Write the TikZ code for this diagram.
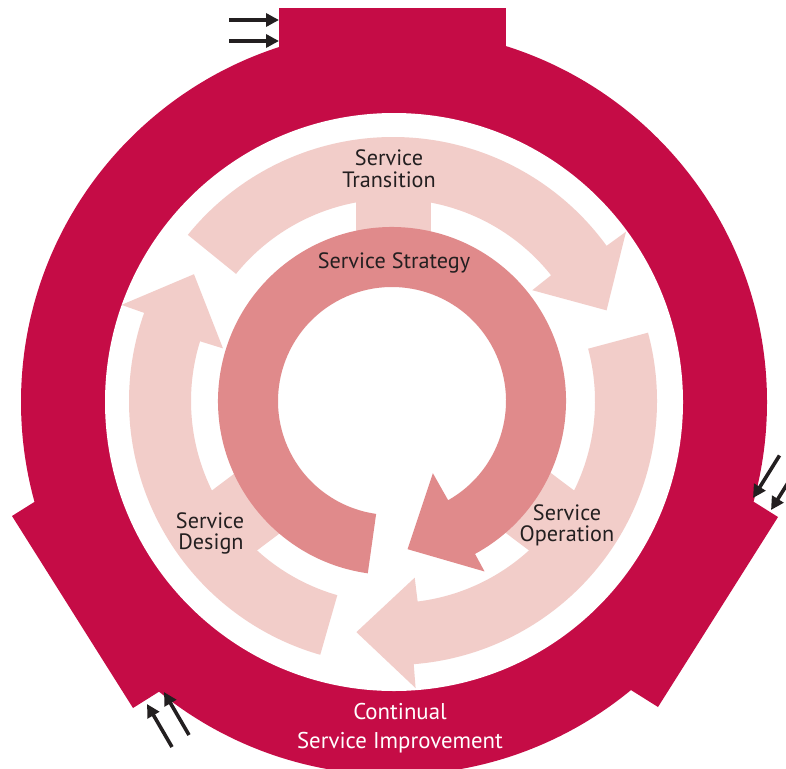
\documentclass[tikz,border=0pt]{standalone}
\usepackage{fontspec}
\setmainfont{PT Sans}
\usetikzlibrary{arrows.meta}
\definecolor{crimson}{RGB}{197,12,70}
\definecolor{lightpink}{RGB}{242,205,201}
\definecolor{midpink}{RGB}{224,138,139}
\definecolor{ink}{RGB}{35,31,32}
\begin{document}
\begin{tikzpicture}[x=1pt,y=1pt,
  lbl/.style={font=\fontsize{22.2}{24}\selectfont, text=ink, inner sep=0pt, anchor=base},
  csilbl/.style={font=\fontsize{22.8}{26}\selectfont, text=white, inner sep=0pt, anchor=base},
  inarrow/.style={draw=ink, line width=3.6pt, -{Triangle[length=13pt,width=13pt]}},
  ringfill/.style={fill=crimson},
  cyclefill/.style={fill=lightpink},
  stratfill/.style={fill=midpink}]
\useasboundingbox (0,-768) rectangle (786,0);

% outer crimson ring with three tabs
\fill[ringfill] (394,-402) circle[radius=373];
\fill[ringfill] (279,-8) rectangle (506,-90);
\fill[ringfill] (12,-516) -- (133,-708) -- (184,-676) -- (63,-484) -- cycle;
\fill[ringfill] (778,-517) -- (658,-707) -- (607,-675) -- (727,-485) -- cycle;
\fill[white] (394,-402) circle[radius=289];

% inflow arrows
\coordinate (ta1) at (229,-20);  \coordinate (tb1) at (279,-20);
\coordinate (ta2) at (229,-41);  \coordinate (tb2) at (279,-41);
\coordinate (la1) at (172,-747); \coordinate (lb1) at (147,-704);
\coordinate (la2) at (189,-735); \coordinate (lb2) at (164,-692);
\coordinate (ra1) at (779.5,-455.5); \coordinate (rb1) at (753,-498);
\coordinate (ra2) at (797.5,-467.5); \coordinate (rb2) at (771,-510);
\draw[inarrow] (ta1) -- (tb1);
\draw[inarrow] (ta2) -- (tb2);
\draw[inarrow] (la1) -- (lb1);
\draw[inarrow] (la2) -- (lb2);
\draw[inarrow] (ra1) -- (rb1);
\draw[inarrow] (ra2) -- (rb2);

% lifecycle arrows
\begin{scope}[shift={(393,-401)}]
  % connectors to the strategy ring
  \fill[cyclefill] (-37.5,150) rectangle (37.5,215);
  \fill[cyclefill, rotate=127] (-37.5,150) rectangle (37.5,215);
  \fill[cyclefill, rotate=233] (-37.5,150) rectangle (37.5,215);
  % Service Transition
  \fill[cyclefill] (141:264) arc[start angle=141,end angle=36,radius=264]
     -- (36:288) -- (23:232) -- (38.5:178) -- (38.5:202)
     arc[start angle=38.5,end angle=141,radius=202] -- cycle;
  % Service Operation
  \fill[cyclefill] (15:264) arc[start angle=15,end angle=-85.5,radius=264]
     -- (-85.5:288) -- (-99:234) -- (-83:178) -- (-83:202)
     arc[start angle=-83,end angle=15,radius=202] -- cycle;
  % Service Design
  \fill[cyclefill] (254:264) arc[start angle=254,end angle=160.5,radius=264]
     -- (160.5:288) -- (147.5:236) -- (162.8:178) -- (162.8:202)
     arc[start angle=162.8,end angle=254,radius=202] -- cycle;
\end{scope}

% Service Strategy ring arrow
\begin{scope}[shift={(392,-401)}]
  \fill[stratfill] (262:174) arc[start angle=262,end angle=-61.5,radius=174]
     -- (-61.5:194) -- (-84:149) -- (-60.5:83) -- (-60.5:114)
     arc[start angle=-60.5,end angle=262,radius=114] -- cycle;
\end{scope}

% labels
\node[lbl] (strategy) at (394,-268) {Service Strategy};
\node[lbl] (transition1) at (389,-165) {Service};
\node[lbl] (transition2) at (389,-187) {Transition};
\node[lbl] (design1) at (210,-528) {Service};
\node[lbl] (design2) at (211,-549) {Design};
\node[lbl] (operation1) at (567,-520) {Service};
\node[lbl] (operation2) at (567,-541) {Operation};
\node[csilbl] (csi1) at (400,-719) {Continual};
\node[csilbl] (csi2) at (400,-748) {Service Improvement};
\end{tikzpicture}
\end{document}
